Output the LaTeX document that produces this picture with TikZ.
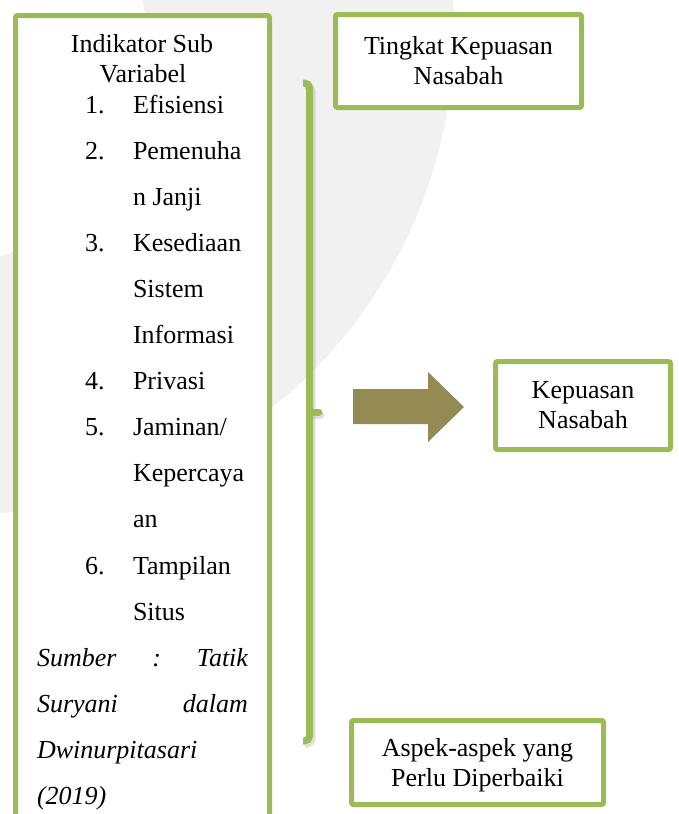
\documentclass[tikz,border=0pt]{standalone}
\usepackage{fontspec}
\setmainfont{Liberation Serif}
\definecolor{boxgreen}{HTML}{9BBB59}
\definecolor{arrowolive}{HTML}{948A54}
\definecolor{wmgrey}{HTML}{F1F1F1}
\begin{document}
\begin{tikzpicture}[x=1pt,y=-1pt,
  txt/.style={font=\fontsize{26}{30}\selectfont, inner sep=0pt, outer sep=0pt},
  greenbox/.style={draw=boxgreen, line width=5pt, fill=white, rounded corners=2pt,
    inner sep=0pt, outer sep=0pt, align=center, font=\fontsize{26}{30}\selectfont},
  bracestyle/.style={draw=boxgreen, line width=7pt, rounded corners=5pt},
  shadowstyle/.style={draw=black!30, opacity=0.4, line width=7pt, rounded corners=5pt}]
\useasboundingbox (0,0) rectangle (678,814);
% faint watermark ring in the background
\begin{scope}
  \clip (0,0) rectangle (678,814);
  \fill[wmgrey, even odd rule] (-31,29) circle[radius=485] (-70,50) circle[radius=218];
\end{scope}
% left box
\node[greenbox, minimum width=254pt, minimum height=844pt] (ind) at (142.5,437.5) {};
% title
\node[txt, anchor=base] (t1) at (142,52) {Indikator Sub};
\node[txt, anchor=base] (t2) at (143,82) {Variabel};
% items
\foreach \k/\num/\word in {0/1./Efisiensi, 1/2./Pemenuha, 2//n Janji, 3/3./Kesediaan,
  4//Sistem, 5//Informasi, 6/4./Privasi, 7/5./Jaminan\slash, 8//Kepercaya, 9//an,
  10/6./Tampilan, 11//Situs}{
  \node[txt, anchor=base west] (n\k) at (85,113+46.1*\k) {\num};
  \node[txt, anchor=base west] (w\k) at (133,113+46.1*\k) {\word};
}
% source lines
\node[txt, anchor=base west] (s1) at (37,113+46.1*12) {\makebox[211pt][s]{\itshape Sumber\hfill:\hfill Tatik}};
\node[txt, anchor=base west] (s2) at (37,113+46.1*13) {\makebox[211pt][s]{\itshape Suryani\hfill dalam}};
\node[txt, anchor=base west] (s3) at (37,113+46.1*14) {\itshape Dwinurpitasari};
\node[txt, anchor=base west] (s4) at (37,113+46.1*15) {\itshape (2019)};
% brace with shadow
\draw[shadowstyle] (305,86) -- (312,86) -- (312,744) -- (305,744);
\draw[shadowstyle, line cap=round] (312,415) -- (321,415);
\draw[bracestyle] (303,83) -- (309.5,83) -- (309.5,741) -- (303,741);
\draw[draw=boxgreen, line width=7pt, line cap=round] (309.5,412) coordinate (bmid) -- (319,412) coordinate (btip);
% right boxes
\node[greenbox, minimum width=246pt, minimum height=93pt] (tk) at (458.5,61) {Tingkat Kepuasan\\Nasabah};
\node[greenbox, minimum width=175pt, minimum height=88pt] (kn) at (583,405.5) {Kepuasan\\Nasabah};
\node[greenbox, minimum width=252pt, minimum height=84pt, text depth=0pt] (ap) at (477.5,762.5) {Aspek-aspek yang\\Perlu Diperbaiki};
% block arrow
\fill[arrowolive] (353,389) -- (428,389) -- (428,372) -- (464,407) -- (428,442) -- (428,424) -- (353,424) -- cycle;
\end{tikzpicture}
\end{document}
